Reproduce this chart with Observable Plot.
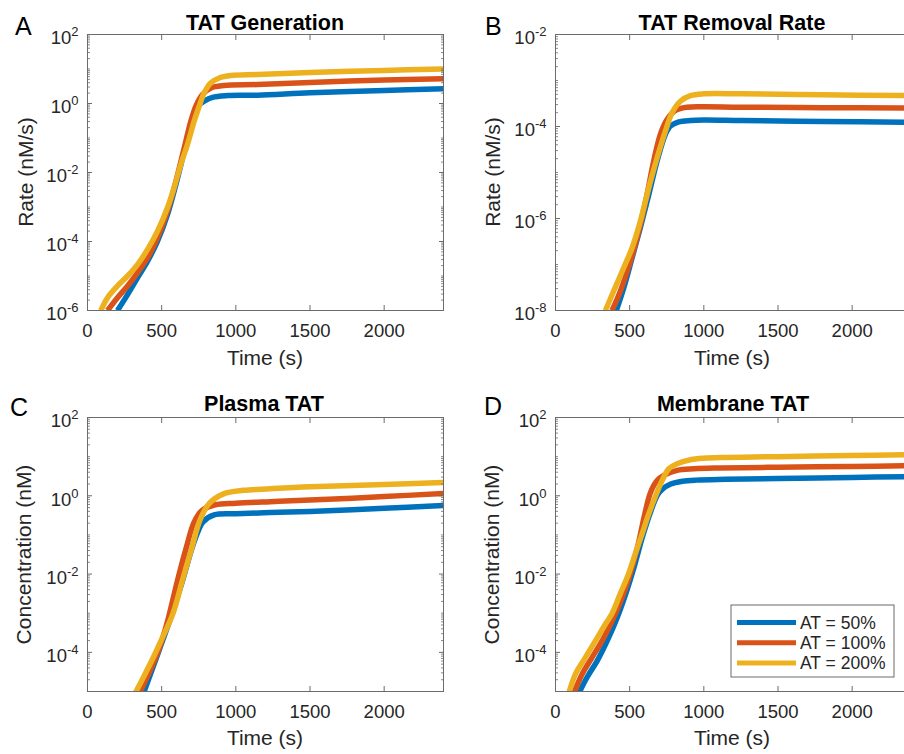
<!DOCTYPE html>
<html><head><meta charset="utf-8">
<script src="https://cdn.jsdelivr.net/npm/d3@7"></script>
<script src="https://cdn.jsdelivr.net/npm/@observablehq/plot@0.6"></script>
<style>
body{margin:0;background:#fff;}
#root{position:relative;width:904px;height:754px;overflow:hidden;background:#fff;font-family:"Liberation Sans",Arial,Helvetica,sans-serif;}
.panel{position:absolute;}
#overlay{position:absolute;left:0;top:0;pointer-events:none;}
</style></head><body><div id="root"></div>
<script>
// ---------- labels / ticks ----------
const seriesLabels = ["AT = 50%", "AT = 100%", "AT = 200%"];
const seriesColors = ["#0072BD", "#D95319", "#EDB120"];
const panelLetters = ["A", "B", "C", "D"];
const panelTitles = ["TAT Generation", "TAT Removal Rate", "Plasma TAT", "Membrane TAT"];
const yAxisLabels = ["Rate (nM/s)", "Rate (nM/s)", "Concentration (nM)", "Concentration (nM)"];
const xAxisLabel = "Time (s)";
const xDomain = [0, 2400];
const xTicks = [0, 500, 1000, 1500, 2000];
// y domains and labelled ticks, as powers of ten
const yDomainExp = [[-6, 2], [-8, -2], [-5, 2], [-5, 2]];
const yTickExp = [[-6, -4, -2, 0, 2], [-8, -6, -4, -2], [-4, -2, 0, 2], [-4, -2, 0, 2]];

// ---------- data: time (s) and log10 of value ----------
// Panel A: TAT Generation (nM/s)
const A_t50  = [202, 270, 337, 405, 472, 539, 596, 652, 697, 742, 787, 843, 944, 1146, 1500, 2000, 2400];
const A_v50  = [-6, -5.54, -5.05, -4.57, -3.99, -3.22, -2.35, -1.38, -0.61, -0.08, 0.07, 0.18, 0.23, 0.24, 0.31, 0.38, 0.43];
const A_t100 = [135, 202, 270, 337, 405, 472, 539, 596, 652, 697, 730, 775, 832, 921, 1146, 1500, 2000, 2400];
const A_v100 = [-6, -5.63, -5.29, -4.91, -4.47, -3.89, -3.12, -2.25, -1.29, -0.51, -0.08, 0.26, 0.45, 0.52, 0.55, 0.61, 0.68, 0.72];
const A_t200 = [90, 135, 202, 270, 337, 405, 472, 539, 584, 629, 674, 719, 753, 787, 832, 888, 966, 1146, 1500, 2000, 2400];
const A_v200 = [-6, -5.63, -5.29, -5.0, -4.67, -4.23, -3.70, -3.02, -2.44, -1.77, -1.19, -0.51, -0.08, 0.31, 0.60, 0.74, 0.81, 0.84, 0.90, 0.96, 1.0];
// Panel B: TAT Removal Rate (nM/s)
const B_t50  = [410, 460, 516, 572, 629, 685, 741, 775, 831, 910, 1000, 1248, 1800, 2400];
const B_v50  = [-8, -7.51, -6.86, -6.20, -5.48, -4.75, -4.17, -3.99, -3.90, -3.87, -3.86, -3.87, -3.89, -3.91];
const B_t100 = [381, 437, 505, 561, 617, 662, 707, 752, 809, 887, 1000, 1248, 1800, 2400];
const B_v100 = [-8, -7.58, -6.93, -6.28, -5.48, -4.75, -4.17, -3.85, -3.65, -3.58, -3.57, -3.58, -3.59, -3.60];
const B_t200 = [336, 392, 460, 516, 572, 629, 685, 741, 786, 842, 910, 1000, 1248, 1800, 2400];
const B_v200 = [-8, -7.58, -7.07, -6.64, -6.06, -5.33, -4.68, -4.10, -3.70, -3.45, -3.33, -3.29, -3.29, -3.31, -3.33];
// Panel C: Plasma TAT (nM)
const C_t50  = [378, 434, 490, 546, 640, 705, 752, 778, 854, 1000, 1232, 1500, 2000, 2400];
const C_v50  = [-5.04, -4.46, -3.87, -3.28, -2.18, -1.33, -0.85, -0.67, -0.49, -0.46, -0.43, -0.40, -0.32, -0.25];
const C_t100 = [351, 412, 479, 535, 607, 667, 718, 771, 861, 1000, 1232, 1500, 2000, 2400];
const C_v100 = [-5.04, -4.55, -3.95, -3.27, -2.16, -1.31, -0.68, -0.38, -0.23, -0.19, -0.15, -0.11, -0.02, 0.06];
const C_t200 = [322, 378, 445, 502, 576, 640, 705, 757, 820, 917, 1052, 1232, 1500, 2000, 2400];
const C_v200 = [-5.04, -4.63, -4.12, -3.65, -3.01, -2.16, -1.31, -0.63, -0.20, 0.05, 0.14, 0.18, 0.23, 0.29, 0.34];
// Panel D: Membrane TAT (nM)
const D_t50  = [158, 214, 282, 349, 417, 473, 529, 586, 642, 687, 721, 777, 856, 946, 1149, 1500, 2000, 2400];
const D_v50  = [-5.04, -4.63, -4.21, -3.70, -3.10, -2.51, -1.83, -1.05, -0.40, 0.02, 0.17, 0.30, 0.37, 0.40, 0.42, 0.44, 0.47, 0.49];
const D_t100 = [124, 180, 248, 315, 383, 450, 507, 563, 600, 640, 685, 730, 820, 933, 1113, 1500, 2000, 2400];
const D_v100 = [-5.04, -4.55, -4.12, -3.70, -3.19, -2.59, -1.95, -1.15, -0.50, 0.08, 0.39, 0.52, 0.65, 0.69, 0.71, 0.73, 0.75, 0.77];
const D_t200 = [90, 135, 203, 270, 338, 381, 437, 493, 538, 584, 629, 674, 719, 764, 820, 910, 1000, 1113, 1500, 2000, 2400];
const D_v200 = [-5.04, -4.55, -4.12, -3.70, -3.27, -3.01, -2.50, -1.99, -1.48, -0.97, -0.46, -0.01, 0.39, 0.69, 0.82, 0.92, 0.96, 0.98, 1.00, 1.03, 1.05];

const panelSeries = [
  [[A_t50, A_v50], [A_t100, A_v100], [A_t200, A_v200]],
  [[B_t50, B_v50], [B_t100, B_v100], [B_t200, B_v200]],
  [[C_t50, C_v50], [C_t100, C_v100], [C_t200, C_v200]],
  [[D_t50, D_v50], [D_t100, D_v100], [D_t200, D_v200]]
];

// ---------- layout ----------
const layout = [
  {left: 0,   top: 0,   width: 452, height: 377, ml: 87,  mr: 9, mt: 34, mb: 67},
  {left: 452, top: 0,   width: 468, height: 377, ml: 103, mr: 9, mt: 34, mb: 67},
  {left: 0,   top: 377, width: 452, height: 377, ml: 87,  mr: 9, mt: 40, mb: 63},
  {left: 452, top: 377, width: 468, height: 377, ml: 103, mr: 9, mt: 40, mb: 63}
];
const axisColor = "#6b6b6b";
const textColor = "#262626";
const root = document.getElementById("root");

panelSeries.forEach((series, p) => {
  const L = layout[p];
  const [lo, hi] = yDomainExp[p];
  const yMajor = yTickExp[p].map(e => Math.pow(10, e));
  const yMinor = [];
  for (let e = lo; e < hi; e++) for (let m = 1; m < 10; m++) {
    const v = m * Math.pow(10, e);
    if (!(m === 1 && yTickExp[p].includes(e))) yMinor.push(v);
  }
  const lines = series.map(([ts, vs], k) => {
    const data = ts.map((t, j) => ({t, v: Math.pow(10, vs[j])}));
    return Plot.line(data, {x: "t", y: "v", stroke: seriesColors[k], strokeWidth: 5.5,
      curve: "catmull-rom", clip: true, strokeLinecap: "butt"});
  });
  const svg = Plot.plot({
    width: L.width, height: L.height,
    marginLeft: L.ml, marginRight: L.mr, marginTop: L.mt, marginBottom: L.mb,
    style: {fontFamily: '"Liberation Sans", Arial, Helvetica, sans-serif', fontSize: "18.5px", color: textColor, background: "transparent", overflow: "visible"},
    x: {domain: xDomain},
    y: {type: "log", domain: [Math.pow(10, lo), Math.pow(10, hi)]},
    marks: [
      ...lines,
      Plot.frame({stroke: axisColor, strokeWidth: 1}),
      Plot.axisX(xTicks, {anchor: "bottom", tickSize: 0, tickPadding: 13, tickFormat: d => String(d), label: null, fill: textColor}),
      Plot.axisX(xTicks, {anchor: "bottom", tickSize: 5, insetBottom: 5, tickFormat: () => "", label: null, stroke: axisColor}),
      Plot.axisX(xTicks, {anchor: "top", tickSize: 5, insetTop: 5, tickFormat: () => "", label: null, stroke: axisColor}),
      Plot.axisY(yMajor, {anchor: "left", tickSize: 0, tickPadding: 9, tickFormat: d => "10^" + Math.round(Math.log10(d)), label: null, dy: 4, fill: textColor}),
      Plot.axisY(yMajor, {anchor: "left", tickSize: 5, insetLeft: 5, tickFormat: () => "", label: null, stroke: axisColor}),
      Plot.axisY(yMajor, {anchor: "right", tickSize: 5, insetRight: 5, tickFormat: () => "", label: null, stroke: axisColor}),
      Plot.axisY(yMinor, {anchor: "left", tickSize: 3, insetLeft: 3, tickFormat: () => "", label: null, stroke: axisColor, strokeWidth: 0.8}),
      Plot.axisY(yMinor, {anchor: "right", tickSize: 3, insetRight: 3, tickFormat: () => "", label: null, stroke: axisColor, strokeWidth: 0.8})
    ]
  });
  // superscript exponents in y tick labels
  svg.querySelectorAll("text").forEach(el => {
    const s = el.textContent;
    if (s.includes("^")) {
      const [base, exp] = s.split("^");
      el.textContent = base;
      const ts = document.createElementNS("http://www.w3.org/2000/svg", "tspan");
      ts.setAttribute("dy", "-8");
      ts.setAttribute("font-size", "13");
      ts.textContent = exp;
      el.appendChild(ts);
    }
  });
  svg.classList.add("panel");
  svg.style.position = "absolute";
  svg.style.left = L.left + "px";
  svg.style.top = L.top + "px";
  root.appendChild(svg);
});

// ---------- overlay texts and legend ----------
const NS = "http://www.w3.org/2000/svg";
const ov = document.createElementNS(NS, "svg");
ov.setAttribute("id", "overlay");
ov.setAttribute("width", 904);
ov.setAttribute("height", 754);
ov.style.fontFamily = '"Liberation Sans", Arial, Helvetica, sans-serif';
root.appendChild(ov);
function addText(str, x, y, opts = {}) {
  const t = document.createElementNS(NS, "text");
  t.setAttribute("x", x); t.setAttribute("y", y);
  t.setAttribute("font-size", opts.size || 21);
  t.setAttribute("fill", opts.fill || textColor);
  t.setAttribute("text-anchor", opts.anchor || "middle");
  if (opts.weight) t.setAttribute("font-weight", opts.weight);
  if (opts.rotate) t.setAttribute("transform", `rotate(-90 ${x} ${y})`);
  t.textContent = str;
  ov.appendChild(t);
}
const pos = [
  {lx: 15, ly: 35, tx: 265, ty: 29.5, xl: 265, xly: 365, ylx: 32.5, yly: 172},
  {lx: 485, ly: 35, tx: 732, ty: 29.5, xl: 732, xly: 365, ylx: 499.5, yly: 172},
  {lx: 10, ly: 416, tx: 264, ty: 410.5, xl: 265, xly: 745, ylx: 30.5, yly: 554.5},
  {lx: 484, ly: 415, tx: 733, ty: 410.5, xl: 732, xly: 745, ylx: 499, yly: 554.5}
];
pos.forEach((q, p) => {
  addText(panelLetters[p], q.lx, q.ly, {size: 25, anchor: "start", fill: "#000"});
  addText(panelTitles[p], q.tx, q.ty, {size: 21.5, weight: "bold", fill: "#000"});
  addText(xAxisLabel, q.xl, q.xly, {size: 21});
  addText(yAxisLabels[p], q.ylx, q.yly, {size: 21, rotate: true});
});
// legend (panel D)
const lg = {x: 731, y: 605, w: 163, h: 72};
const rect = document.createElementNS(NS, "rect");
rect.setAttribute("x", lg.x); rect.setAttribute("y", lg.y);
rect.setAttribute("width", lg.w); rect.setAttribute("height", lg.h);
rect.setAttribute("fill", "#fff"); rect.setAttribute("stroke", axisColor); rect.setAttribute("stroke-width", 1);
ov.appendChild(rect);
seriesLabels.forEach((s, k) => {
  const cy = 622.5 + k * 20.2;
  const ln = document.createElementNS(NS, "line");
  ln.setAttribute("x1", 737); ln.setAttribute("x2", 796);
  ln.setAttribute("y1", cy); ln.setAttribute("y2", cy);
  ln.setAttribute("stroke", seriesColors[k]); ln.setAttribute("stroke-width", 5);
  ov.appendChild(ln);
  addText(s, 800, cy + 6.3, {size: 17.5, anchor: "start"});
});
</script>
</body></html>
